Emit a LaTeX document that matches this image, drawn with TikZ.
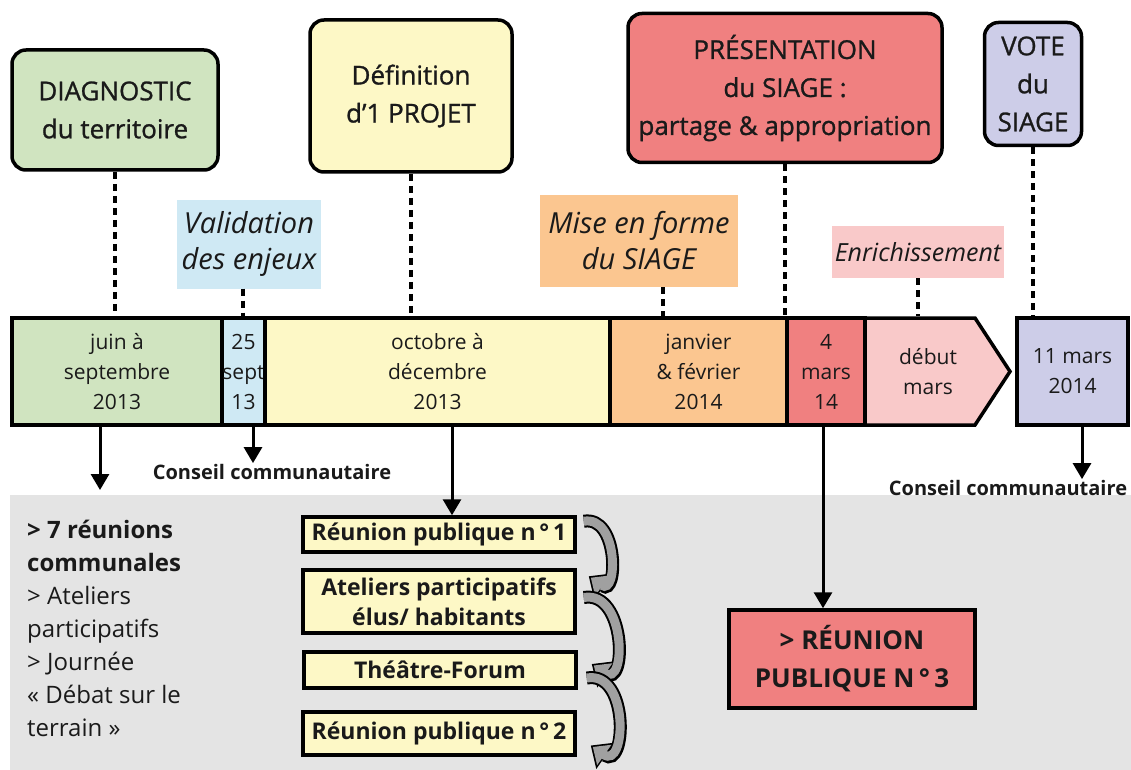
\documentclass[tikz,border=0pt]{standalone}
\usepackage{fontspec}
\setmainfont{Open Sans}
\usetikzlibrary{arrows.meta,positioning,calc}
\definecolor{diaggreen}{RGB}{208,228,192}
\definecolor{projyellow}{RGB}{253,248,198}
\definecolor{presred}{RGB}{240,128,128}
\definecolor{votelav}{RGB}{205,205,232}
\definecolor{validblue}{RGB}{207,233,244}
\definecolor{miseorange}{RGB}{251,198,144}
\definecolor{enrichpink}{RGB}{249,201,201}
\definecolor{zonegray}{RGB}{228,228,228}
\definecolor{curlgray}{RGB}{160,160,160}
\definecolor{ink}{RGB}{26,26,26}

\begin{document}
\begin{tikzpicture}[x=1pt,y=-1pt,
  phase/.style={draw=black,line width=3.5pt,rounded corners=14pt,
                align=center,text=ink,inner sep=0pt,
                font=\fontsize{26}{38}\selectfont\addfontfeature{FakeBold=1}},
  cell/.style={draw=black,line width=3.5pt,minimum height=107pt,
               align=center,text=ink,inner sep=0pt,
               font=\fontsize{21}{30}\selectfont},
  note/.style={align=center,text=ink,inner sep=0pt,
               font=\fontsize{29}{36}\selectfont\itshape},
  action/.style={draw=black,line width=3.5pt,fill=projyellow,
                 minimum width=272pt,align=center,text=ink,inner sep=0pt,
                 font=\fontsize{23}{30}\selectfont\bfseries},
  council/.style={text=ink,inner sep=1pt,font=\fontsize{20}{24}\selectfont\bfseries},
  link/.style={line width=4pt,dash pattern=on 7pt off 5pt},
  arrow/.style={-{Triangle[length=16pt,width=18pt]},line width=3pt},
  curl/.style={draw=curlgray,line width=9pt,shorten >=2.5pt,
               -{Triangle[length=14pt,width=24pt]},
               preaction={draw=black,line width=13pt,shorten >=0pt,
                          -{Triangle[length=18pt,width=31pt]}}}
]
\useasboundingbox (0,0) rectangle (1131,770);
\fill[zonegray] (10,495) rectangle (1131,770);

% phases
\node[phase,fill=diaggreen,minimum width=206pt,minimum height=120pt] (diag) at (115,110) {DIAGNOSTIC\\du territoire};
\node[phase,fill=projyellow,minimum width=202pt,minimum height=152pt] (proj) at (411,96) {Définition\\d'1 PROJET};
\node[phase,fill=presred,minimum width=314pt,minimum height=149pt] (pres) at (785,88) {PRÉSENTATION\\du SIAGE :\\partage \& appropriation};
\node[phase,fill=votelav,minimum width=97pt,minimum height=123pt] (vote) at (1033,84) {VOTE\\du\\SIAGE};

\node[note,fill=validblue,minimum width=144pt,minimum height=89pt] (valid) at (249,244) {Validation\\des enjeux};
\node[note,fill=miseorange,minimum width=198pt,minimum height=92pt] (mise) at (639,241) {Mise en forme\\du SIAGE};
\node[note,fill=enrichpink,minimum width=172pt,minimum height=52pt,font=\fontsize{25}{30}\selectfont\itshape] (enrich) at (918,252) {Enrichissement};

% frise
\node[cell,fill=diaggreen,minimum width=210pt] (juin) at (117,371.5) {juin à\\septembre\\2013};
\node[cell,fill=validblue,minimum width=43pt] (sept) at (243.5,371.5) {25\\sept\\13};
\node[cell,fill=projyellow,minimum width=345pt] (oct) at (437.5,371.5) {octobre à\\décembre\\2013};
\node[cell,fill=miseorange,minimum width=177pt] (janv) at (698.5,371.5) {janvier\\\& février\\2014};
\node[cell,fill=presred,minimum width=78pt] (mars4) at (826,371.5) {4\\mars\\14};
\draw[line width=3.5pt,fill=enrichpink,line join=miter] (865,318) -- (975,318) -- (1010,371.5) -- (975,425) -- (865,425) -- cycle;
\node[align=center,text=ink,font=\fontsize{21}{30}\selectfont] (debut) at (928,371.5) {début\\mars};
\node[cell,fill=votelav,minimum width=111pt] (mars11) at (1072.5,371.5) {11 mars\\2014};

\coordinate (valid foot) at (243,0);
\coordinate (mise foot) at (663,0);
\draw[link] (diag.south) -- (diag.south |- juin.north);
\draw[link] (valid.south -| valid foot) -- (valid foot |- sept.north);
\draw[link] (proj.south) -- (proj.south |- oct.north);
\draw[link] (mise.south -| mise foot) -- (mise foot |- janv.north);
\draw[link] (pres.south) -- (pres.south |- mars4.north);
\draw[link] (enrich.south) -- (enrich.south |- juin.north);
\draw[link] (vote.south) -- (vote.south |- mars11.north);

% suites
\node[council] (cons1) at (272,472) {Conseil communautaire};
\node[council] (cons2) at (1008,488) {Conseil communautaire};
\node[anchor=north west,align=left,text=ink,inner sep=0pt,
      font=\fontsize{24}{33}\selectfont] (actions) at (27,520)
  {\textbf{> 7 réunions}\\\textbf{communales}\\> Ateliers\\participatifs\\> Journée\\« Débat sur le\\terrain »};
\coordinate (actions top) at (100,490);

\node[action,minimum height=35pt] (reu1) at (439,534.5) {Réunion publique n\,°\,1};
\node[action,minimum height=63pt] (atel) at (439,601.5) {Ateliers participatifs\\élus/ habitants};
\node[action,minimum height=36pt] (theatre) at (440,670) {Théâtre-Forum};
\node[action,minimum height=43pt] (reu2) at (439,733.5) {Réunion publique n\,°\,2};
\node[draw=black,line width=3.5pt,fill=presred,minimum width=246pt,minimum height=98pt,
      align=center,text=ink,inner sep=0pt,font=\fontsize{26}{38}\selectfont\bfseries] (reu3) at (852,659) {> RÉUNION\\PUBLIQUE N\,°\,3};

\coordinate (sept out) at (253,0);
\coordinate (oct out) at (452,0);
\coordinate (mars4 out) at (823,0);
\coordinate (mars11 out) at (1082,0);
\draw[arrow] (juin.south -| actions top) -- (actions top);
\draw[arrow] (sept.south -| sept out) -- (sept out |- cons1.north);
\draw[arrow] (oct.south -| oct out) -- (oct out |- reu1.north);
\draw[arrow] (mars4.south -| mars4 out) -- (mars4 out |- reu3.north);
\draw[arrow] (mars11.south -| mars11 out) -- (mars11 out |- cons2.north);

\draw[curl] ($(reu1.north east)+(7,6)$) to[out=10,in=-35,looseness=1.65] ($(atel.north east)+(12,8)$);
\draw[curl] ($(atel.east)+(7,-4)$) to[out=10,in=-35,looseness=1.65] ($(theatre.east)+(14,-6)$);
\draw[curl] ($(theatre.east)+(9,8)$) to[out=10,in=-35,looseness=1.65] ($(reu2.east)+(14,12)$);
\end{tikzpicture}
\end{document}
